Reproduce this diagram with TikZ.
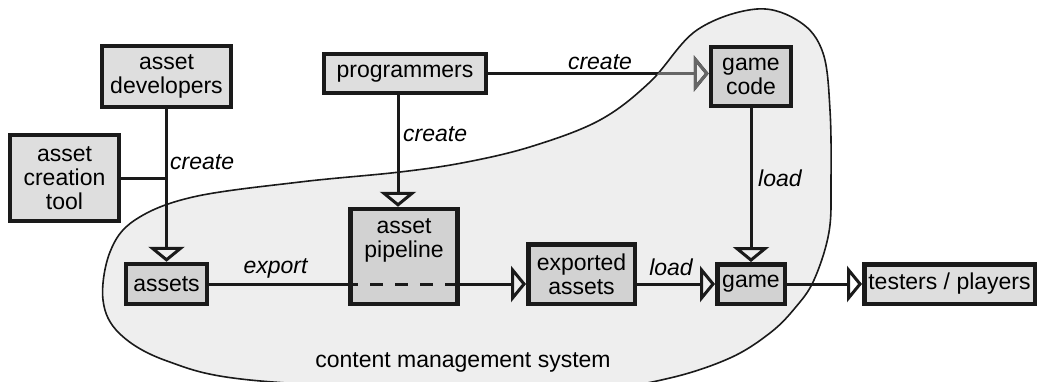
\documentclass[tikz,border=0pt]{standalone}
\usepackage{fontspec}
\setmainfont{Liberation Sans}
\usetikzlibrary{arrows.meta}
\definecolor{blobfill}{HTML}{EEEEEE}
\definecolor{infill}{HTML}{D2D2D2}
\definecolor{outfill}{HTML}{DEDEDE}
\definecolor{ink}{HTML}{1A1A1A}
\tikzset{
  boxbase/.style={draw=ink, line width=4.5pt, inner sep=0pt, align=center,
    font=\fontsize{23}{24}\selectfont},
  outbox/.style={boxbase, fill=outfill},
  inbox/.style={boxbase, fill=infill},
  conn/.style={draw=ink, line width=3pt},
  arr/.style={conn, -{Triangle[open, length=15pt, width=36pt]}},
  lbl/.style={font=\fontsize{23}{24}\selectfont\itshape, inner sep=0pt},
  plain/.style={font=\fontsize{23}{24}\selectfont, inner sep=0pt, align=center}
}
\begin{document}
\begin{tikzpicture}[x=1pt,y=-1pt]
\useasboundingbox (0,0) rectangle (1037,381);
\clip (0,0) rectangle (1037,381);
\def\blobpath{plot[smooth cycle, tension=0.6] coordinates {
 (757,9) (800,22) (823,53) (830,110) (831,180) (829,232) (814,280) (795,308)
 (770,333) (730,358) (670,378) (600,388) (450,390) (250,380) (167,361) (120,334)
 (103,300) (110,252) (135,220) (193,197) (300,182) (400,172) (467,162) (533,146)
 (600,120) (650,82) (697,30)}}
% content management system region
\fill[blobfill] \blobpath;
\draw[ink, line width=1.6pt] \blobpath;
\node[plain] (cmslabel) at (463,362) {content management system};

% nodes
\node[outbox, minimum width=129pt, minimum height=61pt] (adev) at (166.5,76.5) {asset\\developers};
\node[outbox, minimum width=109pt, minimum height=86pt] (act) at (64.5,178) {asset\\creation\\tool};
\node[outbox, minimum width=162pt, minimum height=39pt] (prog) at (405,73.5) {programmers};
\node[inbox, minimum width=80pt, minimum height=59pt] (gcode) at (751,76.5) {game\\code};
\node[inbox, minimum width=107pt, minimum height=95pt] (pipe) at (404,256.5) {};
\node[plain] (pipetext) at (404,240) {asset\\pipeline};
\node[inbox, minimum width=81pt, minimum height=40pt] (assets) at (166.5,284) {assets};
\node[inbox, minimum width=106.5pt, minimum height=59.5pt] (exp) at (581.5,274) {exported\\assets};
\node[inbox, minimum width=67.5pt, minimum height=39.5pt] (game) at (751,284) {game};
\node[outbox, minimum width=170.5pt, minimum height=39.5pt] (testers) at (949.5,284) {testers / players};

% connectors
\draw[arr] (adev.south) -- (assets.north);
\draw[conn] (act.east) -- (act.east -| assets.north);
\node[lbl, anchor=west] (l1) at (170,162) {create};

\coordinate (pdown) at (398,0);
\draw[arr] (prog.south -| pdown) -- (pipe.north -| pdown);
\node[lbl, anchor=west] (l2) at (403,134) {create};

\draw[arr] (prog.east) -- (prog.east -| gcode.west);
\begin{scope}
  \clip \blobpath;
  \draw[arr, draw=black!60] (prog.east) -- (prog.east -| gcode.west);
\end{scope}
\node[lbl] (l3) at (600,62) {create};

\draw[arr] (gcode.south) -- (game.north);
\node[lbl, anchor=west] (l4) at (758,178) {load};

\draw[conn] (assets.east) -- (assets.east -| pipe.west);
\draw[conn, dash pattern=on 13pt off 12pt, dash phase=3pt] (assets.east -| pipe.west) -- (assets.east -| pipe.east);
\draw[arr] (assets.east -| pipe.east) -- (assets.east -| exp.west);
\node[lbl] (l5) at (275.5,268) {export};

\draw[arr] (exp.east |- game.west) -- (game.west);
\node[lbl] (l6) at (671,267) {load};

\draw[arr] (game.east) -- (testers.west);
\end{tikzpicture}
\end{document}
